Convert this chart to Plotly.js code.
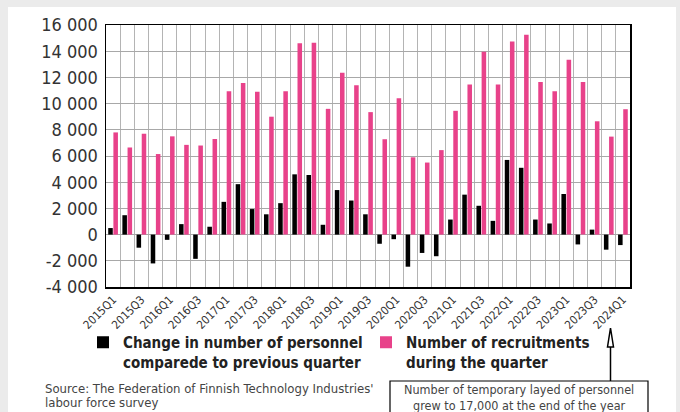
<!DOCTYPE html>
<html>
<head>
<meta charset="utf-8">
<script src="https://cdn.plot.ly/plotly-3.0.1.min.js"></script>
<style>html,body{margin:0;padding:0;background:#ebebeb;}#chart{width:680px;height:412px;}</style>
</head>
<body>
<div id="chart"></div>
<script>
// ---- data ----
var quarters = [
  "2015Q1","2015Q2","2015Q3","2015Q4",
  "2016Q1","2016Q2","2016Q3","2016Q4",
  "2017Q1","2017Q2","2017Q3","2017Q4",
  "2018Q1","2018Q2","2018Q3","2018Q4",
  "2019Q1","2019Q2","2019Q3","2019Q4",
  "2020Q1","2020Q2","2020Q3","2020Q4",
  "2021Q1","2021Q2","2021Q3","2021Q4",
  "2022Q1","2022Q2","2022Q3","2022Q4",
  "2023Q1","2023Q2","2023Q3","2023Q4",
  "2024Q1"
];
var changeInPersonnel = [
  500, 1480, -1000, -2200,
  -400, 800, -1850, 600,
  2500, 3850, 1950, 1550,
  2400, 4600, 4550, 750,
  3400, 2600, 1550, -700,
  -350, -2450, -1400, -1650,
  1150, 3050, 2200, 1050,
  5700, 5100, 1150, 850,
  3100, -750, 380, -1150,
  -800
];
var recruitments = [
  7800, 6650, 7700, 6150,
  7500, 6850, 6800, 7300,
  10950, 11580, 10900, 9000,
  10950, 14600, 14650, 9600,
  12350, 11400, 9350, 7280,
  10400, 5900, 5500, 6450,
  9450, 11450, 13950, 11450,
  14750, 15250, 11650, 10950,
  13350, 11650, 8650, 7480,
  9570
];
var xTickText = quarters.map(function(q){ return (/Q[13]$/.test(q)) ? q : ""; });
var yTickVals = [-4000,-2000,0,2000,4000,6000,8000,10000,12000,14000,16000];
var yTickText = ["-4 000","-2 000","0","2 000","4 000","6 000","8 000","10 000","12 000","14 000","16 000"];
var seriesNames = ["Change in number of personnel<br>comparede to previous quarter",
                   "Number of recruitments<br>during the quarter"];
var sourceLines = ["Source: The Federation of Finnish Technology Industries'", "labour force survey"];
var noteText = "Number of temporary layed of personnel<br>grew to 17,000 at the end of the year";

// ---- layout helpers (pixel -> paper) ----
var W = 680, H = 412, ML = 106, MR = 50, MT = 25, MB = 125;
var PW = W - ML - MR, PH = H - MT - MB;
function px(x){ return (x - ML) / PW; }
function py(y){ return (H - MB - y) / PH; }

var FONT = "DejaVu Sans Condensed, DejaVu Sans, sans-serif";

var traces = [
  {type:"bar", x:quarters, y:changeInPersonnel, name:seriesNames[0],
   marker:{color:"#000000"}},
  {type:"bar", x:quarters, y:recruitments, name:seriesNames[1],
   marker:{color:"#e8428a"}}
];

var annotations = [
  {xref:"paper", yref:"paper", x:px(43), y:py(388), xanchor:"left", yanchor:"middle",
   showarrow:false, text: sourceLines[0], font:{family: FONT, size:13, color:"#444444"}},
  {xref:"paper", yref:"paper", x:px(43), y:py(402), xanchor:"left", yanchor:"middle",
   showarrow:false, text: sourceLines[1], font:{family: FONT, size:13, color:"#444444"}},
  {xref:"paper", yref:"paper", x:px(519), y:py(381), xanchor:"center", yanchor:"top",
   showarrow:false, text: noteText, align:"center", borderpad:0,
   font:{family: FONT, size:12.5, color:"#444444"}}
];

var layout = {
  width: W, height: H,
  margin: {l:ML, r:MR, t:MT, b:MB, pad:0},
  paper_bgcolor: "#ebebeb",
  plot_bgcolor: "#ffffff",
  font: {family: FONT, color:"#333333"},
  barmode: "group",
  bargap: 0.27,
  bargroupgap: 0.12,
  showlegend: true,
  legend: {
    orientation: "h", x: px(83), xanchor: "left", y: py(326), yanchor: "top",
    font: {family: FONT, size: 15, color:"#222222", weight: "bold"},
    valign: "top", entrywidth: 238, entrywidthmode: "pixels",
    bgcolor: "rgba(0,0,0,0)", itemclick: false, traceorder: "normal"
  },
  xaxis: {
    type: "category",
    tickvals: quarters, ticktext: xTickText,
    tickson: "boundaries",
    tickangle: -45,
    tickfont: {size: 11.5, color:"#333333"},
    showgrid: true, gridcolor: "#b4b4b4", gridwidth: 1,
    showline: true, linecolor: "#000000", linewidth: 1.5, mirror: true,
    ticks: "", fixedrange: true
  },
  yaxis: {
    range: [-4000, 16000],
    tickvals: yTickVals, ticktext: yTickText,
    tickfont: {size: 18, color:"#333333"},
    showgrid: true, gridcolor: "#a8a8a8", gridwidth: 1,
    zeroline: false,
    showline: true, linecolor: "#000000", linewidth: 1.5, mirror: true,
    ticks: "", ticklabelstandoff: 3, fixedrange: true
  },
  shapes: [
    {type:"rect", xref:"paper", yref:"paper", layer:"below",
     x0:px(8), x1:px(676), y0:py(7), y1:py(420),
     fillcolor:"#ffffff", line:{width:0}},
    {type:"rect", xref:"paper", yref:"paper",
     x0:px(390), x1:px(648), y0:py(381), y1:py(425),
     fillcolor:"rgba(0,0,0,0)", line:{color:"#000000", width:1.2}},
    {type:"line", xref:"paper", yref:"paper",
     x0:px(610.5), x1:px(610.5), y0:py(381), y1:py(347),
     line:{color:"#000000", width:1.5}},
    {type:"path", xref:"paper", yref:"paper",
     path: "M " + px(610.5) + " " + py(328) + " L " + px(607.5) + " " + py(347) +
           " L " + px(613.5) + " " + py(347) + " Z",
     fillcolor:"#ffffff", line:{color:"#000000", width:1.5}}
  ],
  annotations: annotations
};

Plotly.newPlot("chart", traces, layout, {displayModeBar:false, staticPlot:true});
</script>
</body>
</html>
